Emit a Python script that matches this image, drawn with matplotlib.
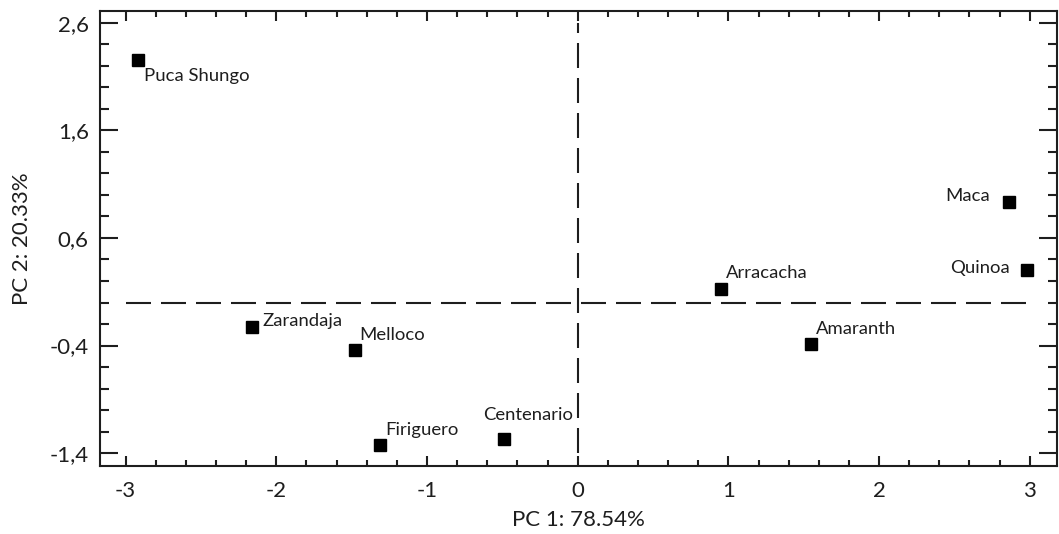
import matplotlib
matplotlib.use("Agg")
import matplotlib.pyplot as plt
from matplotlib.ticker import FixedLocator, MultipleLocator, FuncFormatter

# PCA scores
names = ["Puca Shungo", "Zarandaja", "Melloco", "Firiguero", "Centenario",
         "Arracacha", "Amaranth", "Maca", "Quinoa"]
pc1 = [-2.92, -2.16, -1.48, -1.31, -0.49, 0.95, 1.546, 2.86, 2.984]
pc2 = [2.25, -0.225, -0.44, -1.32, -1.27, 0.126, -0.386, 0.938, 0.302]

# label placement (pixel offsets from the marker, alignment)
label_pos = {
    "Puca Shungo": (6, -21, "left"),
    "Zarandaja": (10, 1, "left"),
    "Melloco": (5, 10, "left"),
    "Firiguero": (5, 10, "left"),
    "Centenario": (-21, 19, "left"),
    "Arracacha": (5, 11, "left"),
    "Amaranth": (5, 10, "left"),
    "Maca": (-19, 1, "right"),
    "Quinoa": (-17, -3, "right"),
}

x_ticks = [-3, -2, -1, 0, 1, 2, 3]
y_ticks = [-1.4, -0.4, 0.6, 1.6, 2.6]

plt.rcParams["font.family"] = ["Lato", "DejaVu Sans"]
ink = "#1e1e1e"

fig = plt.figure(figsize=(10.59, 5.34), dpi=100)
ax = fig.add_axes([0.0944, 0.1273, 0.9036, 0.8521])

# reference lines through the origin
ax.plot([-3, 3], [0, 0], color=ink, lw=1.5, dashes=(12, 4.8), zorder=1)
ax.plot([0, 0], [-1.4, 2.6], color=ink, lw=1.5, dashes=(12, 4.8), zorder=1)

ax.plot(pc1, pc2, ls="none", marker="s", ms=8.7, color="black", zorder=3)

for n, x, y in zip(names, pc1, pc2):
    dx, dy, ha = label_pos[n]
    ax.annotate(n, (x, y), xytext=(dx, dy), textcoords="offset pixels",
                ha=ha, va="baseline", fontsize=13.3, color=ink)

ax.set_xlim(-3.17, 3.18)
ax.set_ylim(-1.52, 2.71)

ax.xaxis.set_major_locator(FixedLocator(x_ticks))
ax.yaxis.set_major_locator(FixedLocator(y_ticks))
ax.xaxis.set_minor_locator(MultipleLocator(0.2))
ax.yaxis.set_minor_locator(MultipleLocator(0.2))
ax.xaxis.set_major_formatter(FuncFormatter(lambda v, p: f"{v:.0f}"))
ax.yaxis.set_major_formatter(FuncFormatter(lambda v, p: f"{v:.1f}".replace(".", ",")))

ax.tick_params(axis="x", which="major", direction="in", length=7, width=1.5,
               top=True, labelsize=16, pad=11, colors=ink)
ax.tick_params(axis="x", which="minor", direction="in", length=4, width=1.5,
               top=True, colors=ink)
ax.tick_params(axis="y", which="major", direction="in", length=13, width=1.5,
               right=True, labelsize=16, pad=8, colors=ink)
ax.tick_params(axis="y", which="minor", direction="in", length=6.5, width=1.5,
               right=True, colors=ink)

for s in ax.spines.values():
    s.set_linewidth(1.5)
    s.set_color(ink)

ax.set_xlabel("PC 1: 78.54%", fontsize=16, color=ink, labelpad=6)
ax.set_ylabel("PC 2: 20.33%", fontsize=16, color=ink, labelpad=13)

fig.savefig("out.png", dpi=100)
